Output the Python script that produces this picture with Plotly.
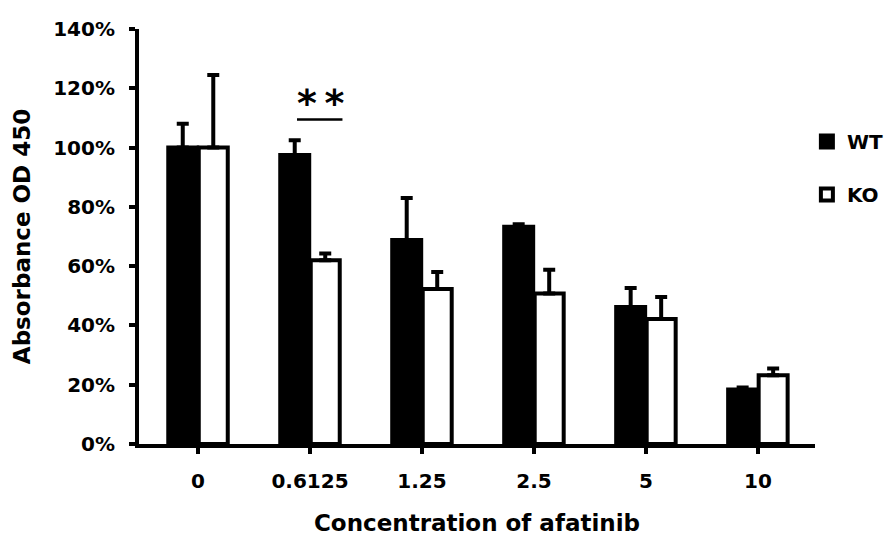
import plotly.graph_objects as go

categories = ["0", "0.6125", "1.25", "2.5", "5", "10"]
wt_values = [100, 97.5, 68.8, 73.3, 46.2, 18.4]
wt_err = [8, 5, 14.2, 0.8, 6.4, 0.7]
ko_values = [100, 62, 52.3, 50.8, 42.2, 23.2]
ko_err = [24.5, 2.3, 5.7, 8.0, 7.4, 2.3]
y_ticks = [0, 20, 40, 60, 80, 100, 120, 140]
y_tick_text = [f"{v}%" for v in y_ticks]

FONT = "DejaVu Sans"

fig = go.Figure()
fig.add_trace(go.Bar(
    name="WT", x=categories, y=wt_values,
    marker=dict(color="black", line=dict(color="black", width=4)),
    error_y=dict(type="data", symmetric=False, array=wt_err,
                 arrayminus=[0] * len(wt_err), color="black", thickness=4, width=6),
    legendgroup="wt",
))
fig.add_trace(go.Bar(
    name="KO", x=categories, y=ko_values,
    marker=dict(color="white", line=dict(color="black", width=4)),
    error_y=dict(type="data", symmetric=False, array=ko_err,
                 arrayminus=[0] * len(ko_err), color="black", thickness=4, width=6),
    legendgroup="ko",
))

# significance marker for 0.6125
sig_idx = 1
line_y = wt_values[sig_idx] + wt_err[sig_idx] + 7
fig.add_shape(type="line", xref="x", yref="y",
              x0=sig_idx - 0.116, x1=sig_idx + 0.29, y0=line_y, y1=line_y,
              line=dict(color="black", width=2.5))
fig.add_annotation(x=sig_idx + 0.09, y=line_y, xref="x", yref="y",
                   text="<b>*\u2009*</b>", showarrow=False, yanchor="bottom",
                   font=dict(family=FONT, size=38, color="black"), yshift=-8)

fig.update_layout(
    width=887, height=538,
    margin=dict(l=139, r=72, t=29, b=94, autoexpand=False),
    paper_bgcolor="white", plot_bgcolor="white",
    barmode="group", bargap=0.455, bargroupgap=0.05,
    font=dict(family=FONT, color="black", size=20),
    legend=dict(x=0.988, y=0.776, xanchor="left", yanchor="top",
                font=dict(family=FONT, size=20, color="black", weight="bold"),
                tracegroupgap=24, bgcolor="rgba(0,0,0,0)"),
    showlegend=True,
)
fig.update_xaxes(
    type="category", range=[-0.527, 5.51],
    showline=True, linecolor="black", linewidth=4,
    ticks="outside", ticklen=6, tickwidth=4, tickcolor="black",
    ticklabelstandoff=10,
    tickfont=dict(family=FONT, size=20, weight="bold"),
    title=dict(text="<b>Concentration of afatinib</b>", font=dict(family=FONT, size=23), standoff=24),
    showgrid=False, zeroline=False,
)
fig.update_yaxes(
    range=[0, 140], tickmode="array", tickvals=y_ticks, ticktext=y_tick_text,
    showline=True, linecolor="black", linewidth=4,
    ticks="outside", ticklen=6, tickwidth=4, tickcolor="black",
    ticklabelstandoff=10,
    tickfont=dict(family=FONT, size=20, weight="bold"),
    title=dict(text="<b>Absorbance OD 450</b>", font=dict(family=FONT, size=23), standoff=17),
    showgrid=False, zeroline=False,
)

fig.write_html("out.html")
